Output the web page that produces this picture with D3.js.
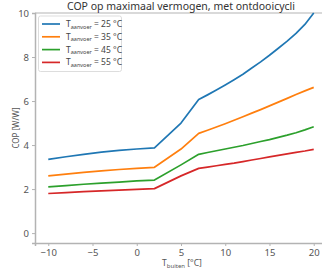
<!DOCTYPE html>
<html><head><meta charset="utf-8">
<script src="https://cdn.jsdelivr.net/npm/d3@7"></script>
<style>body{margin:0;background:#fff}svg{display:block}text{font-family:"Noto Sans",sans-serif}</style>
</head><body><svg id="c" width="322" height="273"></svg>
<script>
const supplyTemps = [25, 35, 45, 55];
const colors = ["#1f77b4", "#ff7f0e", "#2ca02c", "#d62728"];
const xTicks = [-10, -5, 0, 5, 10, 15, 20];
const yTicks = [0, 2, 4, 6, 8, 10];
const outdoorT = [-10, -8, -6, -4, -2, 0, 2, 5, 7, 8, 9, 10, 11, 12, 13, 14, 15, 16, 17, 18, 19, 20];
const cop25 = [3.35, 3.47, 3.58, 3.68, 3.76, 3.82, 3.87, 5.0, 6.07, 6.28, 6.5, 6.73, 6.97, 7.22, 7.5, 7.78, 8.08, 8.4, 8.72, 9.07, 9.48, 10.0];
const cop35 = [2.6, 2.68, 2.76, 2.83, 2.89, 2.94, 2.99, 3.82, 4.53, 4.67, 4.82, 4.97, 5.13, 5.29, 5.45, 5.61, 5.78, 5.95, 6.12, 6.3, 6.46, 6.62];
const cop45 = [2.1, 2.16, 2.22, 2.27, 2.32, 2.37, 2.41, 3.1, 3.58, 3.66, 3.74, 3.82, 3.9, 3.98, 4.07, 4.16, 4.25, 4.35, 4.45, 4.56, 4.69, 4.83];
const cop55 = [1.8, 1.84, 1.88, 1.92, 1.95, 1.99, 2.02, 2.6, 2.94, 3.0, 3.06, 3.12, 3.18, 3.25, 3.32, 3.39, 3.46, 3.53, 3.6, 3.67, 3.73, 3.8];
const series = [cop25, cop35, cop45, cop55];

const svg = d3.select("#c");
const L = 35, R = 327, T = 13, B = 243;
const x = d3.scaleLinear().domain([-11.5, 21.5]).range([L, R]);
const y = d3.scaleLinear().domain([-0.45, 10]).range([B, T]);
const axisCol = "#b3b3b3", tickTxt = "#555";

// frame
svg.append("line").attr("x1", L).attr("x2", R).attr("y1", T).attr("y2", T).attr("stroke", axisCol).attr("stroke-width", 1.2);
svg.append("line").attr("x1", R).attr("x2", R).attr("y1", T).attr("y2", B).attr("stroke", axisCol);

const gx = svg.append("g").attr("transform", `translate(0,${B})`)
  .call(d3.axisBottom(x).tickValues(xTicks).tickSize(3).tickPadding(3).tickFormat(d => d < 0 ? "\u2212" + Math.abs(d) : d));
const gy = svg.append("g").attr("transform", `translate(${L},0)`)
  .call(d3.axisLeft(y).tickValues(yTicks).tickSize(3).tickPadding(3));
[gx, gy].forEach(g => {
  g.select(".domain").attr("stroke", axisCol).attr("stroke-width", 1.5);
  g.selectAll(".tick line").attr("stroke", axisCol);
  g.selectAll(".tick text").attr("fill", tickTxt).style("font-size", "9.5px").style("font-family", "Noto Sans");
});

const line = d3.line().x((d, i) => x(outdoorT[i])).y(d => y(d));
series.forEach((s, k) => {
  svg.append("path").datum(s).attr("d", line).attr("fill", "none")
    .attr("stroke", colors[k]).attr("stroke-width", 1.7).attr("stroke-linejoin", "round");
});

// title
svg.append("text").attr("x", 181).attr("y", 9.5).attr("text-anchor", "middle")
  .attr("fill", "#333").style("font-size", "10.5px").text("COP op maximaal vermogen, met ontdooicycli");

// axis labels
const xl = svg.append("text").attr("x", 182).attr("y", 266).attr("text-anchor", "middle").attr("fill", tickTxt).style("font-size", "8.5px");
xl.append("tspan").text("T");
xl.append("tspan").attr("dy", 1.5).style("font-size", "6px").text("buiten");
xl.append("tspan").attr("dy", -1.5).text(" [°C]");

svg.append("text").attr("transform", "translate(19,128) rotate(-90)").attr("text-anchor", "middle")
  .attr("fill", tickTxt).style("font-size", "8px").text("COP [W/W]");

// legend
svg.append("rect").attr("x", 38.5).attr("y", 16).attr("width", 83).attr("height", 55.5).attr("rx", 2)
  .attr("fill", "#fff").attr("fill-opacity", 0.8).attr("stroke", "#ddd");
supplyTemps.forEach((t, k) => {
  const yy = 24 + k * 12.8;
  svg.append("line").attr("x1", 42).attr("x2", 60).attr("y1", yy).attr("y2", yy).attr("stroke", colors[k]).attr("stroke-width", 1.7);
  const tx = svg.append("text").attr("x", 66).attr("y", yy + 3).attr("fill", "#444").style("font-size", "8.5px");
  tx.append("tspan").text("T");
  tx.append("tspan").attr("dy", 1.5).style("font-size", "5.5px").text("aanvoer");
  tx.append("tspan").attr("dy", -1.5).text(` = ${t} °C`);
});
</script></body></html>
